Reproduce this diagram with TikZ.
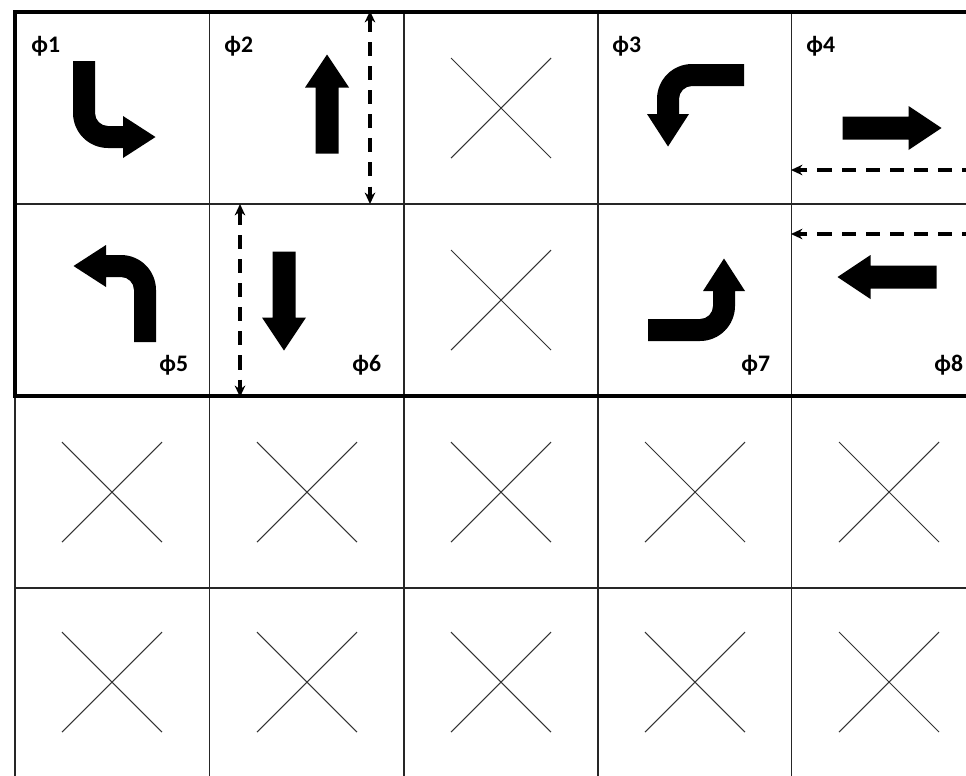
\documentclass[tikz,border=0pt]{standalone}
\usepackage{fontspec}
\setmainfont{Carlito}
\usetikzlibrary{arrows.meta}

\tikzset{
  turn/.pic={
    \fill (-11,-76) -- (-11,-24) arc[start angle=180, end angle=90, radius=35]
      -- (39,11) -- (39,21) -- (71.5,0) -- (39,-21) -- (39,-11) -- (24,-11)
      arc[start angle=90, end angle=180, radius=13] -- (11,-76) -- cycle;
  },
  straight/.pic={
    \fill (-49.5,-11.5) -- (16.5,-11.5) -- (16.5,-22) -- (49.5,0)
      -- (16.5,22) -- (16.5,11.5) -- (-49.5,11.5) -- cycle;
  }
}

\begin{document}
\begin{tikzpicture}[x=0.02cm, y=-0.02cm,
    grid/.style={line width=0.8pt, black!85},
    border/.style={line width=2pt, black},
    cross/.style={line width=0.6pt, black!80},
    phase/.style={font=\bfseries\fontsize{13.5}{15}\selectfont, inner sep=0pt, anchor=base west},
    walk/.style={line width=2pt, dash pattern=on 8pt off 5.7pt, -{Stealth[length=6.5pt,width=6pt]}},
    walkboth/.style={walk, {Stealth[length=6.5pt,width=6pt]}-{Stealth[length=6.5pt,width=6pt]}}]

  \useasboundingbox (0,0) rectangle (966,775);
  \clip (0,0) rectangle (966,775);

  % grid
  \foreach \gx in {15,209.5,404,598,791.5}
    \draw[grid] (\gx,12) -- (\gx,780);
  \draw[grid] (15,204) -- (1000,204);
  \draw[grid] (15,588) -- (1000,588);
  \draw[border] (15,12) rectangle (1010,396);

  % unused movements
  \foreach \cx/\cy in {501/108, 501/300}
    \draw[cross] (\cx-50,\cy-50) -- (\cx+50,\cy+50) (\cx-50,\cy+50) -- (\cx+50,\cy-50);
  \foreach \cx in {112,307,501,695,889}
    \foreach \cy in {492,682}
      \draw[cross] (\cx-50,\cy-50) -- (\cx+50,\cy+50) (\cx-50,\cy+50) -- (\cx+50,\cy-50);

  % movements
  \pic at (84,137) {turn};
  \pic[rotate=90] at (327,104) {straight};
  \pic[rotate=-90] at (668,75) {turn};
  \pic at (892,128) {straight};
  \pic[rotate=180] at (145,266) {turn};
  \pic[rotate=-90] at (284,301) {straight};
  \pic[rotate=90] at (724,330) {turn};
  \pic[rotate=180] at (887,277) {straight};

  % phase labels
  \node[phase] (ph1) at (31,52) {ϕ1};
  \node[phase] (ph2) at (224,52) {ϕ2};
  \node[phase] (ph3) at (612,52) {ϕ3};
  \node[phase] (ph4) at (806,52) {ϕ4};
  \node[phase] (ph5) at (159,371) {ϕ5};
  \node[phase] (ph6) at (352,371) {ϕ6};
  \node[phase] (ph7) at (741,371) {ϕ7};
  \node[phase] (ph8) at (934,371) {ϕ8};

  % pedestrian crossings
  \coordinate (ped2n) at (370,11);
  \coordinate (ped2s) at (370,204);
  \coordinate (ped6n) at (240,204);
  \coordinate (ped6s) at (240,397);
  \coordinate (ped4e) at (1000,170);
  \coordinate (ped4w) at (791,170);
  \coordinate (ped8e) at (1000,234);
  \coordinate (ped8w) at (791,234);

  \draw[walkboth] (ped2n) -- (ped2s);
  \draw[walkboth] (ped6n) -- (ped6s);
  \draw[walk] (ped4e) -- (ped4w);
  \draw[walk] (ped8e) -- (ped8w);
\end{tikzpicture}
\end{document}
